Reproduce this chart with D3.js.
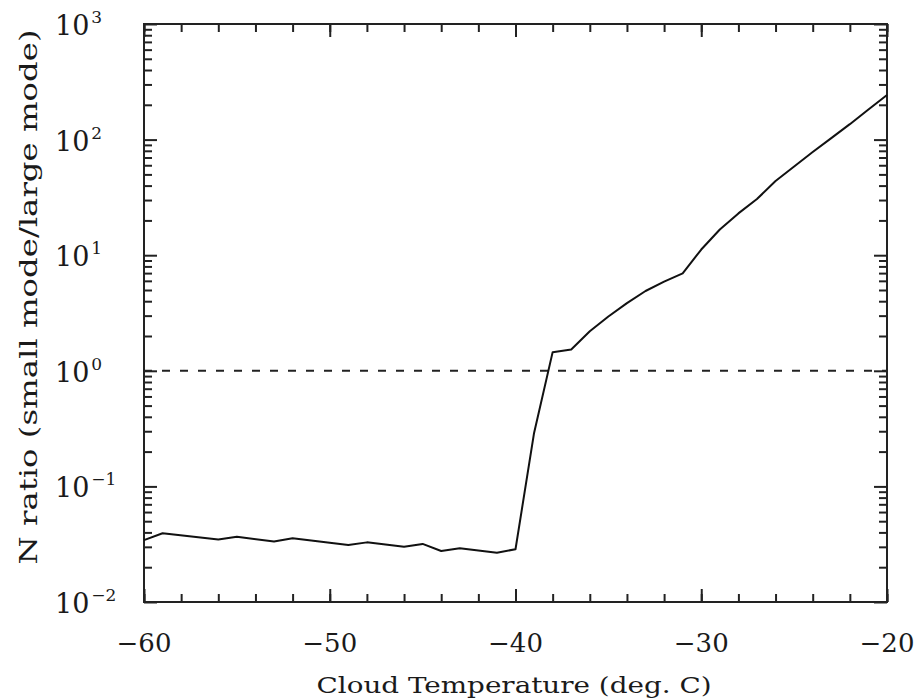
<!DOCTYPE html>
<html>
<head>
<meta charset="utf-8">
<script src="https://cdn.jsdelivr.net/npm/d3@7"></script>
<style>
  body { margin: 0; background: #fff; }
  text { font-family: "DejaVu Serif", serif; fill: #1a1a1a; }
</style>
</head>
<body>
<div id="chart"></div>
<script>
// data
var temps  = [-60, -59, -56, -55, -53, -52, -49, -48, -46, -45, -44, -43, -41, -40,
              -39, -38, -37, -36, -35, -34, -33, -32, -31, -30, -29, -28, -27, -26,
              -25, -24, -23, -22, -21, -20];
var ratios = [0.0343, 0.0393, 0.0348, 0.0367, 0.0333, 0.0356, 0.0311, 0.0328, 0.0300, 0.0318, 0.0276, 0.0292, 0.0267, 0.0286,
              0.29, 1.45, 1.53, 2.2, 2.95, 3.85, 4.9, 5.9, 6.97, 11.2, 16.7, 23, 30.6, 43.8,
              58.5, 78, 103, 136, 182, 243];
var xMajor = [-60, -50, -40, -30, -20];
var xMinor = d3.range(-60, -19, 2);
var yExp   = [-2, -1, 0, 1, 2, 3];
var refLine = 1;

var width = 919, height = 700;
var plot = {left: 144, right: 887, top: 24, bottom: 602};

var svg = d3.select("#chart").append("svg")
  .attr("width", width)
  .attr("height", height);

var x = d3.scaleLinear().domain([-60, -20]).range([plot.left, plot.right]);
var y = d3.scaleLog().domain([1e-2, 1e3]).range([plot.bottom, plot.top]);

// minor log ticks 2..9 in each decade
var yMinor = [];
yExp.slice(0, -1).forEach(function(e){
  for (var k = 2; k <= 9; k++) yMinor.push(k * Math.pow(10, e));
});
var yMajorVals = yExp.map(function(e){ return Math.pow(10, e); });

function styleAxis(g){
  g.select(".domain").remove();
  g.selectAll(".tick line").attr("stroke", "#222").attr("stroke-width", 2);
  g.selectAll(".tick text").remove();
}

//---TICKS, all four sides, pointing inward
var sides = [
  {fn: d3.axisBottom, sc: x, t: "translate(0," + plot.bottom + ")"},
  {fn: d3.axisTop,    sc: x, t: "translate(0," + plot.top + ")"}
];
sides.forEach(function(s){
  svg.append("g").attr("transform", s.t)
    .call(s.fn(s.sc).tickValues(xMinor).tickSize(-8)).call(styleAxis);
  svg.append("g").attr("transform", s.t)
    .call(s.fn(s.sc).tickValues(xMajor).tickSize(-13)).call(styleAxis);
});
var ySides = [
  {fn: d3.axisLeft,  t: "translate(" + plot.left + ",0)"},
  {fn: d3.axisRight, t: "translate(" + plot.right + ",0)"}
];
ySides.forEach(function(s){
  svg.append("g").attr("transform", s.t)
    .call(s.fn(y).tickValues(yMinor).tickSize(-8)).call(styleAxis);
  svg.append("g").attr("transform", s.t)
    .call(s.fn(y).tickValues(yMajorVals).tickSize(-13)).call(styleAxis);
});

// frame
svg.append("rect")
  .attr("x", plot.left).attr("y", plot.top)
  .attr("width", plot.right - plot.left)
  .attr("height", plot.bottom - plot.top)
  .attr("fill", "none")
  .attr("stroke", "#222")
  .attr("stroke-width", 2);

//---TICK LABELS
svg.append("g").selectAll("text")
  .data(xMajor).enter().append("text")
  .attr("x", function(d){ return x(d); })
  .attr("y", 652)
  .attr("text-anchor", "middle")
  .style("font-size", "26px")
  .text(function(d){ return d < 0 ? "\u2212" + Math.abs(d) : d; });

var yl = svg.append("g").selectAll("text")
  .data(yExp).enter().append("text")
  .attr("x", 55)
  .attr("y", function(d){ return y(Math.pow(10, d)) + 11; })
  .style("font-size", "27px");
yl.append("tspan").text("10");
yl.append("tspan")
  .attr("dy", -12)
  .attr("dx", 2)
  .style("font-size", "17px")
  .text(function(d){ return d < 0 ? "\u2212" + Math.abs(d) : d; });

//---AXIS TITLES (glyphs stretched to the wide lettering of the original)
svg.append("text")
  .attr("x", 514).attr("y", 693)
  .attr("text-anchor", "middle")
  .attr("textLength", 395)
  .attr("lengthAdjust", "spacingAndGlyphs")
  .style("font-size", "22px")
  .text("Cloud Temperature (deg. C)");

svg.append("text")
  .attr("transform", "translate(37,297) rotate(-90)")
  .attr("text-anchor", "middle")
  .attr("textLength", 535)
  .attr("lengthAdjust", "spacingAndGlyphs")
  .style("font-size", "24px")
  .text("N ratio (small mode/large mode)");

//---DATA
svg.append("line")
  .attr("x1", plot.left).attr("x2", plot.right)
  .attr("y1", y(refLine)).attr("y2", y(refLine))
  .attr("stroke", "#222")
  .attr("stroke-width", 2)
  .attr("stroke-dasharray", "8,10");

var line = d3.line()
  .x(function(d, i){ return x(temps[i]); })
  .y(function(d){ return y(d); });

svg.append("path")
  .datum(ratios)
  .attr("d", line)
  .attr("fill", "none")
  .attr("stroke", "#111")
  .attr("stroke-width", 2)
  .attr("stroke-linejoin", "round");
</script>
</body>
</html>
